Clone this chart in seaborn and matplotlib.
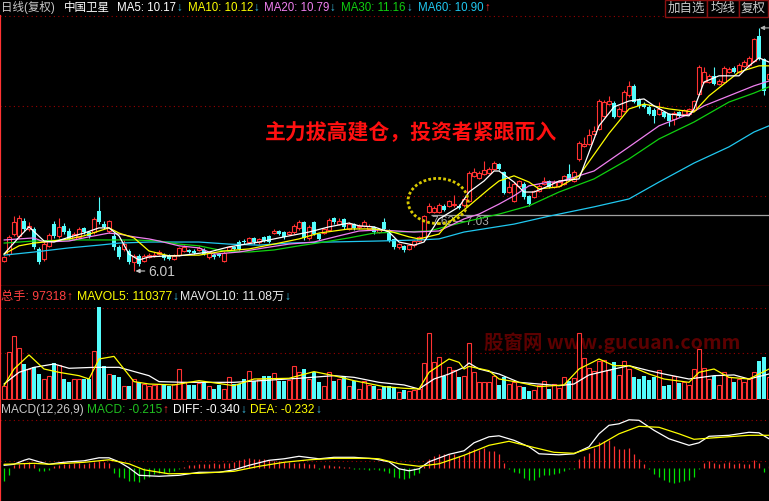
import numpy as np
import pandas as pd
import matplotlib
matplotlib.use("Agg")
import matplotlib.pyplot as plt
import seaborn as sns
from matplotlib.patches import Ellipse, Rectangle

# ---- 日K数据 (复权) ----
opens = [6.31, 6.50, 7.08, 7.03, 7.47, 7.23, 7.23, 6.65, 6.36, 6.74,
         7.37, 7.03, 7.32, 7.18, 6.94, 6.99, 7.26, 7.13, 7.13, 7.76,
         7.37, 7.18, 7.03, 6.70, 6.65, 6.60, 6.26, 6.44, 6.31, 6.41,
         6.47, 6.50, 6.47, 6.45, 6.36, 6.47, 6.60, 6.62, 6.60, 6.63,
         6.63, 6.41, 6.47, 6.49, 6.31, 6.60, 6.70, 6.86, 6.89, 6.86,
         6.96, 6.84, 6.99, 7.02, 7.11, 7.16, 7.13, 7.08, 7.13, 7.25,
         7.42, 6.96, 7.42, 7.08, 7.11, 7.21, 7.54, 7.37, 7.52, 7.23,
         7.37, 7.28, 7.32, 7.23, 7.28, 7.15, 7.42, 7.18, 6.94, 6.70,
         6.73, 6.65, 6.76, 6.88, 6.94, 7.72, 7.72, 7.72, 7.90, 7.90,
         7.92, 7.90, 7.92, 8.04, 8.77, 8.71, 8.82, 8.85, 8.97, 9.11,
         8.88, 8.30, 8.04, 8.48, 8.53, 8.19, 8.16, 8.33, 8.53, 8.62,
         8.45, 8.48, 8.53, 8.82, 8.62, 9.26, 9.63, 9.69, 9.98, 10.13,
         10.51, 10.85, 10.88, 10.51, 10.65, 11.11, 11.38, 11.00, 10.85, 10.77,
         10.68, 10.56, 10.62, 10.56, 10.42, 10.62, 10.56, 10.56, 10.68, 11.14,
         11.49, 11.49, 11.67, 11.43, 11.49, 11.78, 11.90, 11.78, 11.96, 11.98,
         12.10, 12.82, 12.16, 11.58]
closes = [6.41, 6.99, 7.42, 7.54, 7.23, 7.32, 6.70, 6.26, 6.79, 7.05,
          7.03, 7.29, 7.13, 6.94, 7.08, 7.23, 7.13, 7.03, 7.52, 7.42,
          7.28, 7.47, 6.70, 6.41, 6.79, 6.26, 6.45, 6.21, 6.44, 6.47,
          6.48, 6.57, 6.38, 6.36, 6.45, 6.68, 6.70, 6.55, 6.53, 6.67,
          6.50, 6.53, 6.41, 6.45, 6.53, 6.70, 6.65, 6.65, 6.84, 6.96,
          6.84, 6.94, 6.89, 6.86, 7.18, 7.08, 6.99, 7.13, 7.32, 7.44,
          6.96, 7.28, 7.08, 6.94, 7.23, 7.50, 7.42, 7.47, 7.28, 7.37,
          7.25, 7.32, 7.44, 7.32, 7.13, 7.23, 7.23, 6.89, 6.70, 6.79,
          6.62, 6.76, 6.88, 6.99, 7.60, 7.90, 7.84, 7.92, 7.78, 8.04,
          7.95, 7.84, 8.10, 8.85, 8.88, 8.85, 8.94, 8.97, 9.14, 8.97,
          8.27, 8.45, 8.53, 8.62, 8.16, 7.95, 8.33, 8.48, 8.62, 8.45,
          8.59, 8.59, 8.76, 8.68, 8.88, 9.72, 9.69, 9.95, 10.07, 10.94,
          10.91, 10.94, 10.48, 10.71, 11.20, 11.38, 10.91, 10.79, 10.77, 10.56,
          10.51, 10.71, 10.48, 10.36, 10.59, 10.51, 10.68, 10.71, 10.94, 11.93,
          11.78, 11.67, 11.43, 11.52, 11.90, 11.87, 11.78, 11.98, 12.07, 12.19,
          12.74, 12.16, 11.23, 11.72]
highs = [6.45, 7.05, 7.60, 7.63, 7.55, 7.44, 7.30, 6.72, 6.90, 7.12,
         7.47, 7.54, 7.40, 7.25, 7.15, 7.28, 7.30, 7.17, 7.58, 8.15,
         7.45, 7.50, 7.10, 6.75, 6.91, 6.65, 6.50, 6.50, 6.50, 6.52,
         6.55, 6.62, 6.52, 6.50, 6.50, 6.72, 6.75, 6.66, 6.64, 6.73,
         6.68, 6.57, 6.52, 6.53, 6.58, 6.74, 6.74, 6.90, 6.93, 7.00,
         7.00, 6.98, 7.03, 7.06, 7.22, 7.20, 7.17, 7.17, 7.37, 7.50,
         7.47, 7.33, 7.47, 7.12, 7.27, 7.55, 7.58, 7.54, 7.56, 7.42,
         7.41, 7.36, 7.50, 7.36, 7.32, 7.27, 7.55, 7.22, 6.98, 6.83,
         6.77, 6.80, 6.92, 7.03, 7.63, 7.98, 7.90, 7.98, 7.95, 8.08,
         8.21, 7.94, 8.14, 8.90, 9.00, 8.90, 9.20, 9.02, 9.20, 9.15,
         8.92, 8.62, 8.58, 8.66, 8.58, 8.22, 8.37, 8.52, 8.74, 8.66,
         8.64, 8.64, 8.80, 9.11, 8.93, 9.78, 9.90, 10.13, 10.22, 11.00,
         10.97, 11.09, 10.94, 10.76, 11.25, 11.52, 11.43, 11.04, 10.90, 10.81,
         10.73, 10.91, 10.66, 10.60, 10.64, 10.66, 10.72, 10.75, 10.98, 11.97,
         11.93, 11.72, 11.93, 11.57, 11.95, 11.92, 11.95, 12.04, 12.12, 12.24,
         12.78, 13.06, 12.20, 11.78]
lows = [6.27, 6.45, 7.02, 6.98, 7.18, 7.18, 6.65, 6.20, 6.30, 6.70,
        6.98, 6.98, 7.08, 6.90, 6.90, 6.95, 7.08, 6.98, 7.08, 7.38,
        7.22, 7.12, 6.62, 6.35, 6.60, 6.20, 6.01, 6.15, 6.27, 6.38,
        6.42, 6.46, 6.34, 6.32, 6.32, 6.44, 6.56, 6.52, 6.49, 6.60,
        6.46, 6.37, 6.37, 6.41, 6.27, 6.56, 6.61, 6.61, 6.80, 6.82,
        6.80, 6.80, 6.85, 6.82, 7.07, 7.04, 6.95, 7.04, 7.09, 7.21,
        6.92, 6.92, 7.04, 6.90, 7.07, 7.17, 7.38, 7.33, 7.24, 7.19,
        7.21, 7.24, 7.28, 7.19, 7.09, 7.11, 7.19, 6.85, 6.66, 6.66,
        6.56, 6.61, 6.72, 6.85, 6.90, 7.68, 7.68, 7.68, 7.74, 7.86,
        7.88, 7.80, 7.88, 8.00, 8.73, 8.67, 8.78, 8.81, 8.93, 8.93,
        8.23, 8.26, 8.00, 8.44, 8.10, 7.90, 8.12, 8.29, 8.49, 8.41,
        8.41, 8.44, 8.49, 8.64, 8.58, 9.20, 9.60, 9.65, 9.94, 10.09,
        10.47, 10.81, 10.44, 10.47, 10.61, 11.07, 10.87, 10.75, 10.73, 10.52,
        10.30, 10.52, 10.44, 10.22, 10.24, 10.47, 10.52, 10.52, 10.64, 11.10,
        11.45, 11.45, 11.39, 11.39, 11.45, 11.74, 11.74, 11.74, 11.92, 11.94,
        12.06, 12.12, 11.11, 11.54]

# 成交量 (千手)
volume_k = [53, 196, 263, 213, 147, 126, 133, 105, 84, 98,
            150, 143, 84, 70, 84, 86, 84, 84, 203, 385,
            137, 105, 101, 91, 53, 56, 84, 70, 63, 56,
            59, 63, 59, 56, 63, 126, 70, 59, 59, 67,
            70, 56, 42, 59, 42, 91, 63, 63, 86, 119,
            77, 86, 95, 98, 108, 77, 77, 80, 137, 112,
            126, 84, 115, 70, 56, 112, 77, 86, 98, 53,
            77, 42, 77, 59, 56, 42, 56, 56, 52, 28,
            38, 34, 38, 42, 151, 277, 154, 175, 98, 133,
            123, 94, 98, 235, 112, 70, 70, 70, 98, 59,
            91, 63, 70, 53, 52, 35, 38, 59, 74, 42,
            62, 45, 91, 77, 87, 277, 171, 130, 119, 161,
            164, 123, 154, 101, 158, 126, 94, 84, 95, 81,
            91, 122, 56, 59, 95, 67, 73, 59, 126, 210,
            129, 84, 98, 59, 112, 94, 73, 84, 73, 84,
            112, 161, 175, 91]

# MACD 柱
macd_bar = [-0.25, -0.13, 0.06, 0.08, 0.10, 0.12, 0.08, -0.05, -0.06, -0.03,
            0.04, 0.07, 0.08, 0.09, 0.10, 0.10, 0.09, 0.10, 0.12, 0.14,
            0.12, 0.10, -0.10, -0.17, -0.20, -0.25, -0.26, -0.27, -0.22, -0.17,
            -0.12, -0.10, -0.10, -0.08, -0.06, -0.02, 0.03, 0.06, 0.07, 0.08,
            0.08, 0.09, 0.10, 0.09, 0.10, 0.10, 0.12, 0.17, 0.18, 0.20,
            0.18, 0.19, 0.18, 0.17, 0.15, 0.14, 0.13, 0.12, 0.11, 0.10,
            0.11, 0.09, 0.08, -0.02, 0.07, 0.06, 0.05, 0.04, 0.03, 0.02,
            -0.02, -0.02, -0.02, -0.03, -0.02, -0.03, -0.05, -0.09, -0.18, -0.19,
            -0.21, -0.19, -0.14, -0.09, 0.05, 0.18, 0.25, 0.29, 0.29, 0.29,
            0.29, 0.25, 0.27, 0.34, 0.38, 0.36, 0.41, 0.35, 0.34, 0.29,
            0.10, -0.02, -0.07, -0.10, -0.19, -0.24, -0.23, -0.18, -0.14, -0.14,
            -0.12, -0.10, -0.05, -0.02, -0.01, 0.18, 0.25, 0.31, 0.41, 0.52,
            0.55, 0.56, 0.45, 0.38, 0.38, 0.41, 0.29, 0.18, 0.08, -0.02,
            -0.12, -0.18, -0.23, -0.28, -0.30, -0.28, -0.26, -0.23, -0.18, -0.02,
            0.11, 0.15, 0.11, 0.09, 0.11, 0.13, 0.09, 0.10, 0.09, 0.09,
            0.16, 0.11, -0.07, 0.05]

# 均线 (读点位置 = K线序号)
ma5_idx = [0, 3, 5, 8, 10, 13, 16, 19, 21, 23, 25, 27, 29, 33, 35, 41, 45, 51, 55, 61,
           65, 69, 71, 74, 77, 79, 82, 84, 87, 91, 93, 96, 98, 99, 102, 104, 106, 109, 111, 115,
           119, 122, 125, 128, 130, 133, 137, 138, 140, 143, 147, 149, 151, 153]
ma5 = [6.50, 6.99, 7.29, 6.88, 6.85, 6.99, 7.11, 7.26, 7.26, 7.03, 6.50, 6.33, 6.42, 6.45, 6.45, 6.56, 6.71, 6.85, 6.97, 7.14,
       7.29, 7.40, 7.32, 7.29, 7.14, 6.85, 6.76, 6.85, 7.52, 7.87, 8.30, 8.62, 8.91, 8.91, 8.59, 8.30, 8.30, 8.48, 8.62, 8.68,
       10.22, 10.77, 10.94, 11.00, 10.80, 10.56, 10.51, 10.71, 11.49, 11.67, 11.67, 11.96, 12.19, 12.07]
ma10_idx = [0, 3, 6, 8, 13, 16, 19, 21, 23, 26, 29, 33, 37, 39, 44, 49, 54, 59, 63, 69,
            74, 77, 81, 83, 87, 89, 93, 97, 99, 102, 105, 107, 111, 115, 121, 125, 128, 133, 138, 141,
            147, 151, 153]
ma10 = [6.50, 6.74, 6.82, 6.85, 6.94, 7.03, 7.17, 7.26, 7.11, 6.97, 6.59, 6.45, 6.47, 6.47, 6.59, 6.65, 6.79, 6.94, 7.11, 7.23,
        7.23, 7.17, 7.00, 6.94, 7.08, 7.43, 7.90, 8.39, 8.62, 8.77, 8.59, 8.39, 8.45, 8.77, 10.00, 10.71, 10.85, 10.71, 10.62, 11.09,
        11.78, 11.96, 11.96]
ma20_idx = [0, 6, 8, 13, 17, 21, 23, 26, 29, 31, 35, 39, 42, 47, 52, 57, 62, 67, 71, 75,
            82, 87, 92, 95, 99, 102, 105, 109, 111, 118, 125, 131, 137, 140, 145, 150, 153]
ma20 = [6.91, 6.97, 6.85, 6.88, 7.00, 7.11, 7.08, 7.00, 6.94, 6.88, 6.74, 6.68, 6.50, 6.56, 6.68, 6.79, 6.85, 7.03, 7.17, 7.20,
        7.14, 7.17, 7.52, 7.66, 7.95, 8.19, 8.48, 8.59, 8.59, 8.91, 9.61, 10.22, 10.56, 10.80, 11.09, 11.38, 11.52]
ma30_idx = [0, 6, 13, 19, 26, 31, 35, 39, 44, 49, 54, 59, 64, 69, 74, 79, 85, 92, 99, 105,
            111, 118, 125, 131, 138, 145, 150, 153]
ma30 = [6.82, 6.88, 6.91, 6.91, 6.91, 6.88, 6.79, 6.74, 6.59, 6.56, 6.62, 6.74, 6.85, 6.97, 7.11, 7.14, 7.17, 7.43, 7.66, 7.90,
        8.30, 8.68, 9.26, 9.84, 10.33, 10.91, 11.17, 11.35]
ma60_idx = [0, 6, 13, 19, 23, 29, 39, 45, 51, 57, 65, 75, 83, 87, 92, 102, 109, 111, 118, 125,
            131, 138, 145, 150, 153]
ma60 = [6.47, 6.56, 6.68, 6.76, 6.82, 6.85, 6.85, 6.79, 6.76, 6.82, 6.85, 6.88, 6.91, 6.94, 7.14, 7.37, 7.60, 7.66, 7.87, 8.10,
        8.59, 9.14, 9.61, 10.04, 10.22]

# 量均线 (千手)
mavol5_idx = [0, 2, 5, 8, 11, 15, 17, 19, 22, 24, 26, 29, 34, 39, 46, 50, 57, 62, 66, 70,
              76, 80, 83, 85, 89, 91, 92, 93, 97, 99, 103, 107, 112, 115, 119, 122, 125, 129, 132, 137,
              139, 142, 145, 149, 153]
mavol5 = [56, 126, 185, 126, 112, 98, 84, 168, 179, 126, 73, 63, 59, 77, 56, 84, 87, 115, 98, 77,
          52, 45, 42, 112, 168, 154, 126, 137, 119, 84, 70, 52, 59, 126, 168, 140, 140, 105, 84, 70,
          112, 126, 91, 84, 126]
mavol10_idx = [0, 3, 6, 10, 13, 18, 23, 29, 31, 36, 46, 59, 66, 70, 75, 80, 83, 86, 89, 92,
               93, 95, 99, 103, 111, 114, 117, 122, 125, 129, 132, 137, 142, 146, 149, 153]
mavol10 = [63, 112, 133, 147, 129, 133, 133, 98, 73, 70, 70, 87, 98, 91, 70, 59, 42, 84, 105, 133,
           151, 126, 105, 70, 56, 63, 101, 126, 140, 119, 105, 84, 98, 101, 84, 105]

# DIFF / DEA
diff_idx = [0, 2, 4, 5, 7, 9, 11, 13, 16, 19, 21, 23, 25, 27, 31, 35, 39, 43, 46, 49,
            53, 56, 59, 63, 66, 70, 74, 77, 79, 81, 83, 85, 89, 92, 94, 97, 99, 102, 105, 107,
            111, 114, 117, 119, 121, 123, 125, 127, 130, 133, 137, 139, 141, 145, 149, 151, 153]
diff = [0.06, 0.08, 0.16, 0.19, 0.13, 0.08, 0.11, 0.13, 0.15, 0.21, 0.21, 0.13, 0.01, -0.14, -0.16, -0.14, -0.08, -0.08, -0.03, 0.06,
        0.16, 0.19, 0.24, 0.19, 0.22, 0.22, 0.19, 0.13, -0.01, -0.05, -0.01, 0.13, 0.28, 0.35, 0.51, 0.63, 0.65, 0.56, 0.43, 0.29,
        0.27, 0.29, 0.43, 0.69, 0.86, 0.89, 0.97, 0.96, 0.76, 0.59, 0.46, 0.51, 0.64, 0.66, 0.72, 0.71, 0.59]
dea_idx = [0, 6, 9, 16, 21, 25, 28, 33, 39, 46, 51, 56, 61, 66, 73, 75, 79, 83, 87, 92,
           97, 101, 105, 110, 114, 119, 123, 127, 131, 135, 138, 142, 149, 153]
dea = [0.08, 0.10, 0.08, 0.12, 0.17, 0.09, -0.03, -0.11, -0.10, -0.06, 0.04, 0.12, 0.17, 0.20, 0.20, 0.19, 0.09, 0.04, 0.09, 0.26,
       0.46, 0.54, 0.44, 0.32, 0.30, 0.46, 0.69, 0.84, 0.82, 0.69, 0.58, 0.61, 0.66, 0.66]

sns.set_theme(style="dark", rc={"axes.facecolor": "black", "figure.facecolor": "black", "axes.grid": False})
plt.rcParams["font.family"] = ["Liberation Sans", "Noto Sans CJK SC", "DejaVu Sans"]

W, H = 769, 502
RED = "#ff3232"
CYAN = "#54fcfc"
GRID = "#9a0000"
ARROW_DN = "#3cc0e6"

df = pd.DataFrame({"open": opens, "close": closes, "high": highs, "low": lows,
                   "vol": volume_k, "macd": macd_bar})
df["i"] = np.arange(len(df))
df["up"] = df["close"] >= df["open"]
up = df[df["up"]]
dn = df[~df["up"]]

fig = plt.figure(figsize=(W / 100, H / 100), dpi=100)


def panel(top, bottom, grids, bottom_line=True):
    ax = fig.add_axes([0, 1 - bottom / H, 1, (bottom - top) / H])
    ax.set_facecolor("black")
    for s in ax.spines.values():
        s.set_visible(False)
    ax.spines["left"].set_visible(True)
    ax.spines["left"].set_color(RED)
    ax.spines["left"].set_linewidth(1.6)
    if bottom_line:
        ax.spines["bottom"].set_visible(True)
        ax.spines["bottom"].set_color("#c00000")
        ax.spines["bottom"].set_linewidth(1.0)
    for g in grids:
        ax.axhline(g, color=GRID, lw=0.8, ls=(0, (1, 3)), zorder=0.5, clip_on=False)
    return ax


def finish(ax, ylim):
    ax.set_xlim(-0.8, 153.0)
    ax.set_ylim(*ylim)
    ax.set_xticks([])
    ax.set_yticks([])
    ax.set_xlabel("")
    ax.set_ylabel("")


def line(ax, x, y, color, lw=0.9):
    sns.lineplot(x=x, y=y, ax=ax, color=color, linewidth=lw, estimator=None,
                 sort=False, legend=False, zorder=3)


# ---- K线 ----
k_lim = (5.575, 13.405)
ax_k = panel(17, 287, [13.40, 10.80, 8.19])
ax_k.vlines(up["i"], up["low"], up["high"], color=RED, lw=0.8, zorder=2)
ax_k.vlines(dn["i"], dn["low"], dn["high"], color=CYAN, lw=0.8, zorder=2)
ax_k.bar(up["i"], up["close"] - up["open"], bottom=up["open"], width=0.7,
         facecolor="black", edgecolor=RED, linewidth=0.8, zorder=2.5)
ax_k.bar(dn["i"], dn["open"] - dn["close"], bottom=dn["close"], width=0.7,
         color=CYAN, linewidth=0, zorder=2.5)
line(ax_k, ma60_idx, ma60, "#20c8f0")
line(ax_k, ma30_idx, ma30, "#10d010")
line(ax_k, ma20_idx, ma20, "#f080f0")
line(ax_k, ma10_idx, ma10, "#ffff00")
line(ax_k, ma5_idx, ma5, "#ffffff")

# 最低/最高价标记
ax_k.annotate("6.01", xy=(26.3, 6.01), xytext=(28.8, 6.01), color="#c8c8c8", fontsize=10,
              va="center", ha="left",
              arrowprops=dict(arrowstyle="-|>", color="#c8c8c8", lw=0.8, mutation_scale=6,
                              shrinkA=0, shrinkB=0))
ax_k.annotate("", xy=(151.2, 13.06), xytext=(153.2, 13.06),
              arrowprops=dict(arrowstyle="-|>", color="#b0b0b0", lw=0.8, mutation_scale=6,
                              shrinkA=0, shrinkB=0))
ax_k.hlines(7.62, 85.3, 153.0, color="#a0a0a0", lw=0.9, zorder=1.5)
ax_k.text(85.4, 7.46, "7.62—7.03", color="#a8a8a8", fontsize=8.5, va="center", ha="left", zorder=1.6)
ax_k.add_patch(Ellipse((86.8, 8.04), 12.0, 1.31, fill=False, edgecolor="#d8c800",
                       lw=2.0, ls=(0, (1, 0.8)), zorder=4))
ax_k.text(81.4, 10.07, "主力拔高建仓，投资者紧跟而入", color="#ff1010", fontsize=15,
          fontweight="bold", family=["Noto Sans CJK SC"], ha="center", va="center", zorder=5)
finish(ax_k, k_lim)

# ---- 成交量 ----
v_lim = (-4.2, 474.6)
ax_v = panel(287, 401, [382.2, 193.2])
ax_v.bar(up["i"], up["vol"], width=0.75, facecolor="black", edgecolor=RED, linewidth=0.8, zorder=2)
ax_v.bar(dn["i"], dn["vol"], width=0.75, color=CYAN, linewidth=0, zorder=2)
line(ax_v, mavol10_idx, mavol10, "#ffffff")
line(ax_v, mavol5_idx, mavol5, "#ffff00")
ax_v.text(121.7, 239.4, "股窗网 www.gucuan.comm", color="#5c0000", fontsize=14, fontweight="bold",
          family=["Noto Sans CJK SC"], ha="center", va="center", zorder=1)
finish(ax_v, v_lim)

# ---- MACD ----
m_lim = (-0.654, 1.366)
ax_m = panel(401, 502, [0.966, 0.146], bottom_line=False)
mpos = df[df["macd"] >= 0]
mneg = df[df["macd"] < 0]
ax_m.vlines(mpos["i"], 0, mpos["macd"], color=RED, lw=0.9, zorder=2)
ax_m.vlines(mneg["i"], 0, mneg["macd"], color="#00e000", lw=0.9, zorder=2)
line(ax_m, diff_idx, diff, "#ffffff")
line(ax_m, dea_idx, dea, "#ffff00")
finish(ax_m, m_lim)


# ---- 顶部与各面板标题 ----
renderer = fig.canvas.get_renderer()


def title_row(y, parts, size):
    # parts: (起点x 或 None=紧接上一段, 文字, 颜色)
    x = 0
    for x0, s, color in parts:
        if x0 is not None:
            x = x0
        t = fig.text(x / W, 1 - y / H, s, color=color, fontsize=size, va="center", ha="left")
        x = t.get_window_extent(renderer).x1 + 0.5


title_row(8, [(1, "日线(复权)", "#c8c8c8"), (64, "中国卫星", "#ffffff"),
              (117, "MA5: 10.17", "#ffffff"), (None, "↓", ARROW_DN),
              (188, "MA10: 10.12", "#ffff00"), (None, "↓", ARROW_DN),
              (264, "MA20: 10.79", "#f080f0"), (None, "↓", ARROW_DN),
              (341, "MA30: 11.16", "#10d010"), (None, "↓", ARROW_DN),
              (418, "MA60: 10.90", "#20c8f0"), (None, "↑", RED)], 8.3)
title_row(297, [(1, "总手: 97318", "#ff4040"), (None, "↑", RED),
                (77, "MAVOL5: 110377", "#ffff00"), (None, "↓", ARROW_DN),
                (180, "MAVOL10: 11.08万", "#e8e8e8"), (None, "↓", ARROW_DN)], 8.8)
title_row(410, [(1, "MACD(12,26,9)", "#c8c8c8"),
                (87, "MACD: -0.215", "#20c020"), (None, "↑", RED),
                (173, "DIFF: -0.340", "#ffffff"), (None, "↓", ARROW_DN),
                (250, "DEA: -0.232", "#ffff00"), (None, "↓", ARROW_DN)], 8.6)

for x0, x1, s in [(665, 707, "加自选"), (707, 739, "均线"), (739, 768, "复权")]:
    fig.add_artist(Rectangle((x0 / W, 1 - 17.5 / H), (x1 - x0) / W, 17 / H, transform=fig.transFigure,
                             facecolor="black", edgecolor="#8b1010", lw=1.0))
    fig.text((x0 + x1) / 2 / W, 1 - 8.5 / H, s, color="#c8c8c8", fontsize=9,
             ha="center", va="center")

fig.savefig("out.png", dpi=100, facecolor="black")
